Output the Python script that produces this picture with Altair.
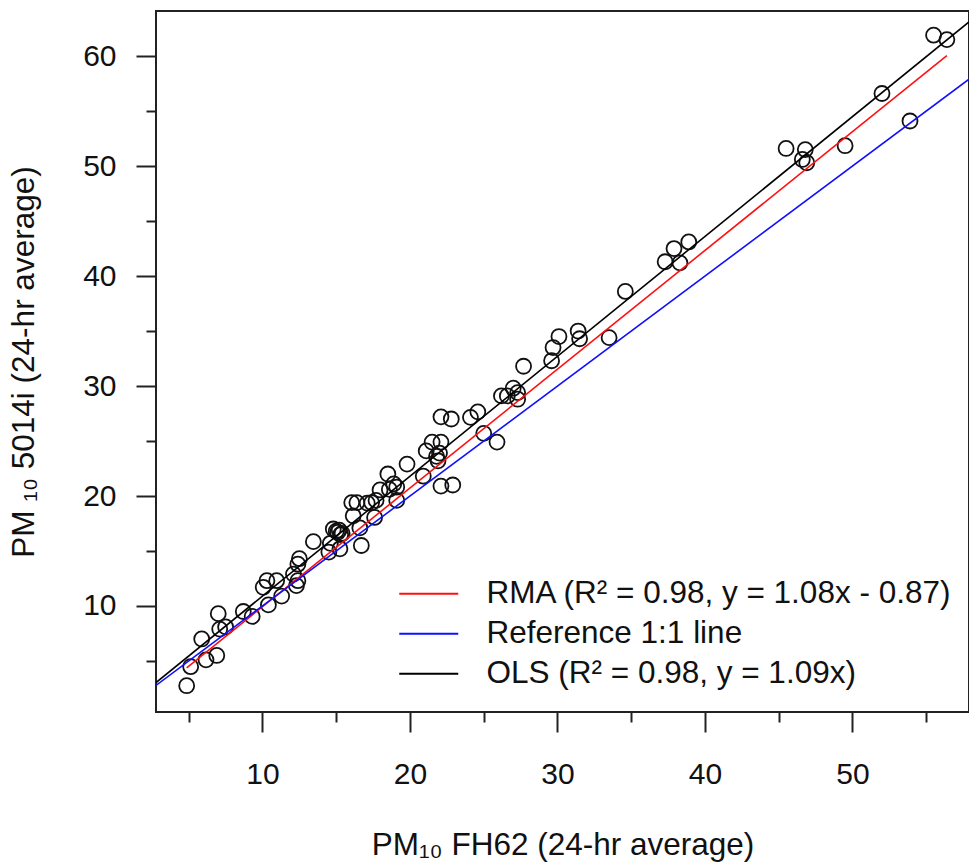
import altair as alt
import pandas as pd

# PM10 FH62 (x) and PM10 5014i (y), 24-hr averages
FH62 = [4.86, 5.13, 5.88, 6.17, 6.9, 7.0, 7.1, 7.5, 8.7, 9.3,
        10.05, 10.3, 10.4, 10.96, 11.3, 12.1, 12.3, 12.4, 12.5, 12.4,
        13.45, 14.5, 14.6, 14.8, 15.1, 15.3, 15.2, 15.4, 15.0, 15.25,
        16.15, 16.05, 16.4, 16.7, 16.6, 17.1, 17.4, 17.6, 17.7, 17.97,
        18.5, 18.6, 18.9, 19.1, 19.1, 19.8, 20.9, 21.1, 21.5, 21.8,
        21.9, 22.0, 22.1, 22.1, 22.8, 22.1, 22.9, 24.1, 24.6, 25.0,
        25.9, 26.2, 26.6, 27.0, 27.3, 27.3, 27.7, 29.6, 29.7, 30.1,
        31.4, 31.5, 33.5, 34.6, 37.3, 37.9, 38.3, 38.9, 45.5, 46.8,
        46.6, 46.9, 49.5, 52.0, 53.9, 55.5, 56.4]
I5014 = [2.75, 4.48, 7.0, 5.1, 5.5, 9.3, 7.9, 8.1, 9.5, 9.05,
         11.7, 12.3, 10.1, 12.3, 10.9, 12.9, 11.85, 12.3, 14.3, 13.8,
         15.85, 14.9, 15.7, 17.0, 16.7, 16.5, 16.9, 16.6, 16.8, 15.2,
         18.2, 19.4, 19.4, 15.5, 17.1, 19.35, 19.4, 18.05, 19.6, 20.55,
         22.0, 20.6, 21.1, 20.8, 19.6, 22.9, 21.8, 24.1, 24.9, 23.6,
         23.2, 23.9, 24.9, 27.2, 27.0, 20.9, 21.0, 27.15, 27.65, 25.7,
         24.9, 29.1, 29.1, 29.8, 29.4, 28.8, 31.8, 32.3, 33.5, 34.5,
         35.0, 34.3, 34.4, 38.6, 41.3, 42.5, 41.2, 43.1, 51.6, 51.5,
         50.6, 50.3, 51.85, 56.6, 54.1, 61.9, 61.5]

SERIES = ["RMA (R\u00b2 = 0.98, y = 1.08x - 0.87)",
          "Reference 1:1 line",
          "OLS (R\u00b2 = 0.98, y = 1.09x)"]
SLOPE = [1.08, 1.0, 1.09]
INTERCEPT = [-0.87, 0.0, 0.0]
COLORS = ["#ff1010", "#1010ff", "#000000"]

X_DOMAIN = [2.78, 57.9]
Y_DOMAIN = [0.36, 64.1]

FONT = "Liberation Sans"

pts = pd.DataFrame({"x": FH62, "y": I5014})

rows = []
for name, b, a in zip(SERIES, SLOPE, INTERCEPT):
    if name.startswith("RMA"):
        xs = [min(FH62), max(FH62)]
    else:
        xs = X_DOMAIN
    for xv in xs:
        rows.append({"series": name, "x": xv, "y": b * xv + a})
lines = pd.DataFrame(rows)

major = "datum.value % 10 === 0"
x_axis = alt.Axis(
    values=list(range(5, 60, 5)),
    labelExpr="datum.value % 10 === 0 ? datum.label : ''",
    tickSize={"condition": {"test": major, "value": 20}, "value": 10},
    labelPadding=27,
    labelOverlap=False,
    labelFlush=False,
    title="PM\u2081\u2080 FH62 (24-hr average)",
    titlePadding=40,
    titleFontSize=31.5,
)
y_axis = alt.Axis(
    values=list(range(5, 65, 5)),
    labelExpr="datum.value % 10 === 0 ? datum.label : ''",
    tickSize={"condition": {"test": major, "value": 20}, "value": 10},
    labelPadding=20,
    labelOverlap=False,
    labelFlush=False,
    title="PM \u2081\u2080 5014i (24-hr average)",
    titlePadding=42,
    titleFontSize=31.5,
)

xs = alt.Scale(domain=X_DOMAIN, nice=False, zero=False)
ys = alt.Scale(domain=Y_DOMAIN, nice=False, zero=False)

points = alt.Chart(pts).mark_point(
    shape="circle", filled=False, size=225, strokeWidth=1.8,
    color="#111111", opacity=1
).encode(
    x=alt.X("x:Q", scale=xs, axis=x_axis),
    y=alt.Y("y:Q", scale=ys, axis=y_axis),
)

fit = alt.Chart(lines).mark_line(strokeWidth=1.6, clip=True).encode(
    x=alt.X("x:Q", scale=xs),
    y=alt.Y("y:Q", scale=ys),
    detail="series:N",
    color=alt.Color(
        "series:N",
        scale=alt.Scale(domain=SERIES, range=COLORS),
        legend=alt.Legend(
            title=None, orient="none", legendX=257, legendY=567,
            symbolType="M-5.9,0H5.9", symbolSize=100, symbolStrokeWidth=1.8,
            symbolOpacity=1,
            labelFont=FONT, labelFontSize=31.5, labelColor="#111111",
            labelOffset=42, labelLimit=0, rowPadding=7, padding=0,
        ),
    ),
)

chart = alt.layer(points, fit).properties(
    width=813, height=701,
    autosize=alt.AutoSizeParams(type="none"),
    padding={"left": 156, "top": 11, "right": 0, "bottom": 156},
).configure_view(
    stroke="#222222", strokeWidth=2
).configure_axis(
    domain=False, grid=False, tickColor="#222222", tickWidth=2,
    labelFont=FONT, labelFontSize=30, labelColor="#111111",
    titleFont=FONT, titleFontSize=31.5, titleFontWeight="normal", titleColor="#111111",
)

chart.save("out.html", embed_options={"renderer": "svg", "actions": False})
